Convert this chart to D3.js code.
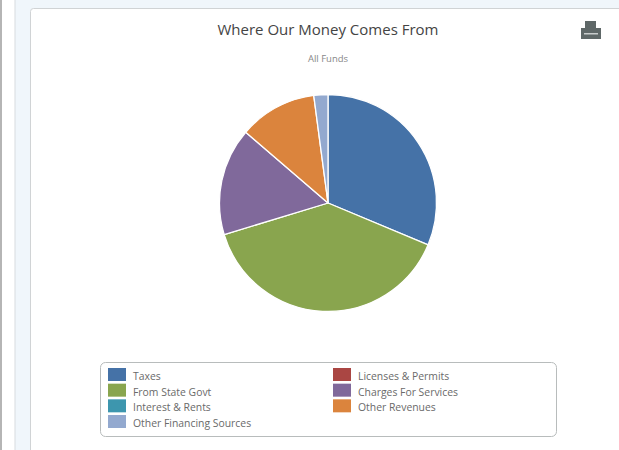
<!DOCTYPE html>
<html><head><meta charset="utf-8">
<script src="https://cdnjs.cloudflare.com/ajax/libs/d3/7.8.5/d3.min.js"></script>
<style>html,body{margin:0;padding:0;background:#fff;overflow:hidden}svg{display:block}</style>
</head><body><div id="chart"></div>
<script>
const categories = ["Taxes","Licenses & Permits","From State Govt","Charges For Services","Interest & Rents","Other Revenues","Other Financing Sources"];
const values = [31.3,0,39.0,16.0,0,11.6,2.1];
const colors = ["#4572a7","#aa4643","#89a54e","#80699b","#3d96ae","#db843d","#93a9cf"];
const font = "'Open Sans','Noto Sans',sans-serif";

const svg = d3.select("#chart").append("svg").attr("width",619).attr("height",450);
svg.append("rect").attr("width",619).attr("height",450).attr("fill","#fff");
svg.append("rect").attr("x",0).attr("y",0).attr("width",2).attr("height",450).attr("fill","#b5b5b5");
svg.append("rect").attr("x",15).attr("y",0).attr("width",604).attr("height",450).attr("fill","#f0f6fb");
svg.append("rect").attr("x",14.5).attr("y",0).attr("width",1).attr("height",450).attr("fill","#d8dcdf");
svg.append("rect").attr("x",30.5).attr("y",8.5).attr("width",600).attr("height",470).attr("rx",3)
  .attr("fill","#fff").attr("stroke","#d0d3d5");

svg.append("text").attr("x",328).attr("y",35).attr("text-anchor","middle")
  .attr("font-family",font).attr("font-size",15).attr("fill","#444").text("Where Our Money Comes From");
svg.append("text").attr("x",328).attr("y",62).attr("text-anchor","middle")
  .attr("font-family",font).attr("font-size",9.5).attr("fill","#888").text("All Funds");

// printer icon
const ic = svg.append("g").attr("fill","#5f6868");
ic.append("rect").attr("x",585).attr("y",21).attr("width",11).attr("height",7);
ic.append("rect").attr("x",581).attr("y",28).attr("width",20).attr("height",11);
ic.append("rect").attr("x",584).attr("y",33).attr("width",14).attr("height",1.5).attr("fill","#c8cccc");

const pie = d3.pie().sort(null).value(d=>d.v)(categories.map((c,i)=>({c,v:values[i],col:colors[i]})));
const arc = d3.arc().innerRadius(0).outerRadius(108.5);
svg.append("g").attr("transform","translate(328,203)").selectAll("path").data(pie.filter(d=>d.data.v>0)).join("path")
  .attr("d",arc).attr("fill",d=>d.data.col).attr("stroke","#fff").attr("stroke-width",1.3).attr("stroke-linejoin","round");

svg.append("rect").attr("x",100.5).attr("y",362.5).attr("width",456).attr("height",74).attr("rx",5)
  .attr("fill","#fff").attr("stroke","#b8bcbc");
const lx = d3.scalePoint().domain([0,1]).range([108,333]);
const ly = d3.scalePoint().domain([0,1,2,3]).range([368,415]);
const lg = svg.append("g").selectAll("g").data(categories).join("g")
  .attr("transform",(d,i)=>`translate(${lx(i%2)},${ly(Math.floor(i/2))})`);
lg.append("rect").attr("width",18).attr("height",13).attr("fill",(d,i)=>colors[i]);
lg.append("text").attr("x",25).attr("y",12).attr("font-family",font).attr("font-size",10.4)
  .attr("fill","#6a6a6a").text(d=>d);
</script></body></html>
